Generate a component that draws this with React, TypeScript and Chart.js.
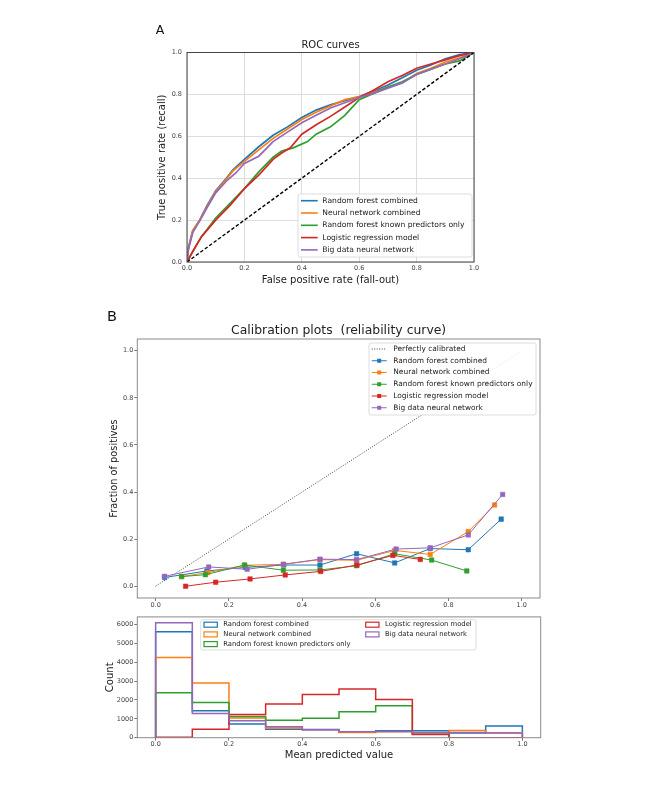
import { useEffect, useRef } from 'react';
import { Chart, registerables } from 'chart.js';

Chart.register(...registerables);

const FONT = '"DejaVu Sans", "Liberation Sans", sans-serif';

const SERIES_LABELS = [
  'Random forest combined',
  'Neural network combined',
  'Random forest known predictors only',
  'Logistic regression model',
  'Big data neural network',
];
const SERIES_COLORS = ['#1f77b4', '#ff7f0e', '#2ca02c', '#d62728', '#9467bd'];

// ---------- ROC curves ----------
const ROC_RF_FPR = [0, 0.005, 0.02, 0.044, 0.07, 0.1, 0.137, 0.16, 0.2, 0.25, 0.3, 0.35, 0.4, 0.45, 0.5, 0.55, 0.6, 0.65, 0.7, 0.75, 0.8, 0.85, 0.9, 0.95, 1];
const ROC_RF_TPR = [0, 0.07, 0.15, 0.2, 0.27, 0.34, 0.4, 0.44, 0.49, 0.55, 0.605, 0.645, 0.69, 0.725, 0.75, 0.77, 0.79, 0.815, 0.845, 0.88, 0.915, 0.94, 0.97, 0.99, 1];
const ROC_NN_FPR = [0, 0.005, 0.02, 0.044, 0.07, 0.1, 0.137, 0.16, 0.2, 0.25, 0.3, 0.35, 0.4, 0.45, 0.5, 0.55, 0.6, 0.65, 0.7, 0.75, 0.8, 0.85, 0.9, 0.95, 1];
const ROC_NN_TPR = [0, 0.065, 0.15, 0.2, 0.265, 0.335, 0.395, 0.435, 0.48, 0.535, 0.59, 0.635, 0.68, 0.715, 0.745, 0.775, 0.79, 0.81, 0.835, 0.855, 0.9, 0.925, 0.955, 0.975, 1];
const ROC_RFK_FPR = [0, 0.02, 0.05, 0.1, 0.15, 0.2, 0.25, 0.3, 0.33, 0.37, 0.42, 0.45, 0.5, 0.55, 0.6, 0.65, 0.7, 0.75, 0.8, 0.85, 0.9, 0.95, 1];
const ROC_RFK_TPR = [0, 0.05, 0.12, 0.21, 0.28, 0.35, 0.43, 0.5, 0.53, 0.545, 0.575, 0.61, 0.645, 0.7, 0.775, 0.805, 0.835, 0.86, 0.895, 0.92, 0.945, 0.96, 1];
const ROC_LR_FPR = [0, 0.02, 0.05, 0.1, 0.15, 0.2, 0.25, 0.3, 0.33, 0.36, 0.4, 0.45, 0.5, 0.55, 0.6, 0.65, 0.7, 0.75, 0.8, 0.85, 0.9, 0.95, 1];
const ROC_LR_TPR = [0, 0.05, 0.12, 0.2, 0.27, 0.35, 0.415, 0.49, 0.52, 0.545, 0.61, 0.655, 0.695, 0.74, 0.785, 0.82, 0.86, 0.89, 0.925, 0.945, 0.965, 0.985, 1];
const ROC_BD_FPR = [0, 0.005, 0.02, 0.044, 0.07, 0.1, 0.14, 0.17, 0.2, 0.25, 0.3, 0.35, 0.4, 0.45, 0.5, 0.55, 0.6, 0.65, 0.7, 0.75, 0.8, 0.85, 0.9, 0.95, 1];
const ROC_BD_TPR = [0, 0.06, 0.14, 0.195, 0.26, 0.33, 0.39, 0.425, 0.47, 0.505, 0.575, 0.62, 0.665, 0.7, 0.735, 0.76, 0.785, 0.805, 0.83, 0.855, 0.895, 0.92, 0.945, 0.97, 1];
const ROC_DIAG = [0, 1];

// ---------- Calibration ----------
const CAL_RF_X = [0.0245, 0.14, 0.245, 0.35, 0.449, 0.549, 0.653, 0.75, 0.854, 0.944];
const CAL_RF_Y = [0.037, 0.065, 0.08, 0.09, 0.09, 0.138, 0.099, 0.16, 0.155, 0.285];
const CAL_NN_X = [0.071, 0.143, 0.243, 0.349, 0.449, 0.549, 0.653, 0.75, 0.854, 0.926];
const CAL_NN_Y = [0.041, 0.058, 0.089, 0.093, 0.113, 0.11, 0.152, 0.135, 0.232, 0.345];
const CAL_RFK_X = [0.071, 0.136, 0.243, 0.349, 0.449, 0.549, 0.653, 0.754, 0.85];
const CAL_RFK_Y = [0.041, 0.049, 0.09, 0.068, 0.069, 0.087, 0.138, 0.111, 0.065];
const CAL_LR_X = [0.082, 0.164, 0.258, 0.354, 0.451, 0.55, 0.648, 0.723];
const CAL_LR_Y = [0.0, 0.017, 0.031, 0.048, 0.063, 0.09, 0.131, 0.114];
const CAL_BD_X = [0.0245, 0.145, 0.25, 0.349, 0.449, 0.549, 0.657, 0.75, 0.854, 0.948];
const CAL_BD_Y = [0.042, 0.082, 0.072, 0.093, 0.115, 0.113, 0.158, 0.163, 0.218, 0.39];
const CAL_PERFECT = [0, 1];

// ---------- Histogram ----------
const BIN_EDGES = [0, 0.1, 0.2, 0.3, 0.4, 0.5, 0.6, 0.7, 0.8, 0.9, 1.0];
const HIST_RF = [5620, 1430, 730, 450, 430, 300, 370, 370, 250, 620];
const HIST_NN = [4250, 2900, 1050, 520, 420, 280, 310, 260, 380, 260];
const HIST_RFK = [2380, 1860, 1120, 920, 1030, 1370, 1700, 180, 0, 0];
const HIST_LR = [30, 450, 1230, 1790, 2290, 2580, 2020, 170, 0, 0];
const HIST_BD = [6100, 1280, 900, 580, 420, 310, 330, 280, 280, 250];

const UNIT_TICKS = [0, 0.2, 0.4, 0.6, 0.8, 1.0];
const COUNT_TICKS = [0, 1000, 2000, 3000, 4000, 5000, 6000];

const tickFont = { family: FONT, size: 6.5 };
const fixedTicks = (values: number[]) => (scale: any) => {
  scale.ticks = values.map((v) => ({ value: v }));
};
const fixedWidth = (w: number) => (scale: any) => {
  scale.width = w;
};
const fixedHeight = (h: number) => (scale: any) => {
  scale.height = h;
};
const fmt1 = (v: any) => Number(v).toFixed(1);
const pairs = (xs: number[], ys: number[]) => xs.map((x, i) => ({ x, y: ys[i] }));
const stepPoints = (vals: number[]) => {
  const pts: { x: number; y: number }[] = [{ x: BIN_EDGES[0], y: 0 }];
  vals.forEach((v, i) => {
    pts.push({ x: BIN_EDGES[i], y: v });
    pts.push({ x: BIN_EDGES[i + 1], y: v });
  });
  pts.push({ x: BIN_EDGES[vals.length], y: 0 });
  return pts;
};

function drawLegend(ctx: CanvasRenderingContext2D, L: any) {
  ctx.save();
  ctx.beginPath();
  if ((ctx as any).roundRect) (ctx as any).roundRect(L.x, L.y, L.w, L.h, 2);
  else ctx.rect(L.x, L.y, L.w, L.h);
  ctx.fillStyle = 'rgba(255,255,255,0.85)';
  ctx.fill();
  ctx.strokeStyle = '#d4d4d4';
  ctx.lineWidth = 0.8;
  ctx.stroke();
  ctx.font = `${L.fontSize}px ${FONT}`;
  ctx.textAlign = 'left';
  ctx.textBaseline = 'middle';
  L.items.forEach((it: any, i: number) => {
    const col = Math.floor(i / L.perCol);
    const row = i % L.perCol;
    const sx = L.colX[col];
    const tx = L.textX[col];
    const y = L.row0 + row * L.rowH;
    ctx.strokeStyle = it.color;
    ctx.fillStyle = it.color;
    ctx.setLineDash([]);
    if (it.kind === 'line' || it.kind === 'marker' || it.kind === 'dotted') {
      ctx.lineWidth = it.kind === 'line' ? 1.6 : 1;
      if (it.kind === 'dotted') ctx.setLineDash([1, 1.5]);
      ctx.beginPath();
      ctx.moveTo(sx, y);
      ctx.lineTo(sx + L.sampleW, y);
      ctx.stroke();
      ctx.setLineDash([]);
      if (it.kind === 'marker') {
        const cx = sx + L.sampleW / 2;
        ctx.fillRect(cx - 2, y - 2, 4, 4);
      }
    } else if (it.kind === 'rect') {
      ctx.lineWidth = 1.2;
      ctx.strokeRect(sx, y - 2.5, L.sampleW, 5);
    }
    ctx.fillStyle = '#222';
    ctx.fillText(it.label, tx, y);
  });
  ctx.restore();
}

function decor(spec: any) {
  return {
    id: 'decor',
    afterDraw(chart: any) {
      const { ctx, chartArea: ca } = chart;
      ctx.save();
      ctx.strokeStyle = spec.frameColor;
      ctx.lineWidth = 1;
      ctx.strokeRect(ca.left, ca.top, ca.right - ca.left, ca.bottom - ca.top);
      ctx.fillStyle = '#222';
      if (spec.title) {
        ctx.font = `${spec.titleSize}px ${FONT}`;
        ctx.textAlign = 'center';
        ctx.textBaseline = 'middle';
        ctx.fillText(spec.title, (ca.left + ca.right) / 2, spec.titleY);
      }
      if (spec.letter) {
        ctx.font = `${spec.letterSize}px ${FONT}`;
        ctx.textAlign = 'left';
        ctx.textBaseline = 'alphabetic';
        ctx.fillStyle = '#111';
        ctx.fillText(spec.letter, spec.letterX, spec.letterY);
      }
      ctx.restore();
      if (spec.legend) drawLegend(ctx, spec.legend);
    },
  };
}

function axisTitle(text: string, size: number) {
  return { display: true, text, font: { family: FONT, size }, color: '#222', padding: 0 };
}

function rocConfig(): any {
  const series = [
    [ROC_RF_FPR, ROC_RF_TPR],
    [ROC_NN_FPR, ROC_NN_TPR],
    [ROC_RFK_FPR, ROC_RFK_TPR],
    [ROC_LR_FPR, ROC_LR_TPR],
    [ROC_BD_FPR, ROC_BD_TPR],
  ];
  const datasets: any[] = series.map(([xs, ys], i) => ({
    label: SERIES_LABELS[i],
    data: pairs(xs, ys),
    borderColor: SERIES_COLORS[i],
    backgroundColor: SERIES_COLORS[i],
    borderWidth: 1.7,
    showLine: true,
    pointRadius: 0,
    order: 6 - i,
  }));
  datasets.push({
    label: 'chance',
    data: pairs(ROC_DIAG, ROC_DIAG),
    borderColor: '#000',
    borderWidth: 1.4,
    borderDash: [3.5, 2],
    showLine: true,
    pointRadius: 0,
    order: 0,
  });
  const gridCommon = { color: '#d4d4d4', lineWidth: 0.8, drawTicks: false };
  return {
    type: 'scatter',
    data: { datasets },
    options: {
      animation: false,
      responsive: false,
      events: [],
      layout: { padding: { top: 32.5, left: 16.5, right: 11, bottom: 9 } },
      plugins: { legend: { display: false }, tooltip: { enabled: false }, title: { display: false } },
      scales: {
        x: {
          type: 'linear', min: 0, max: 1,
          afterBuildTicks: fixedTicks(UNIT_TICKS), afterFit: fixedHeight(24),
          grid: gridCommon, border: { display: false },
          ticks: { font: tickFont, color: '#444', padding: 2.4, callback: fmt1, autoSkip: false, maxRotation: 0 },
          title: axisTitle('False positive rate (fall-out)', 10),
        },
        y: {
          type: 'linear', min: 0, max: 1,
          afterBuildTicks: fixedTicks(UNIT_TICKS), afterFit: fixedWidth(30.5),
          grid: gridCommon, border: { display: false },
          ticks: { font: tickFont, color: '#444', padding: 5, callback: fmt1, autoSkip: false },
          title: axisTitle('True positive rate (recall)', 10),
        },
      },
    },
    plugins: [
      decor({
        frameColor: '#444',
        title: 'ROC curves', titleSize: 10, titleY: 25,
        letter: 'A', letterSize: 12.5, letterX: 15.7, letterY: 14,
        legend: {
          x: 158, y: 174, w: 174, h: 63, fontSize: 7.6,
          perCol: 5, colX: [161], textX: [182.3], sampleW: 16.7, row0: 180.7, rowH: 12.3,
          items: SERIES_LABELS.map((l, i) => ({ label: l, color: SERIES_COLORS[i], kind: 'line' })),
        },
      }),
    ],
  };
}

function calConfig(): any {
  const series = [
    [CAL_RF_X, CAL_RF_Y],
    [CAL_NN_X, CAL_NN_Y],
    [CAL_RFK_X, CAL_RFK_Y],
    [CAL_LR_X, CAL_LR_Y],
    [CAL_BD_X, CAL_BD_Y],
  ];
  const datasets: any[] = [
    {
      label: 'Perfectly calibrated',
      data: pairs(CAL_PERFECT, CAL_PERFECT),
      borderColor: '#444',
      borderWidth: 1,
      borderDash: [1, 1.5],
      showLine: true,
      pointRadius: 0,
      order: 10,
    },
  ];
  series.forEach(([xs, ys], i) => {
    datasets.push({
      label: SERIES_LABELS[i],
      data: pairs(xs, ys),
      borderColor: SERIES_COLORS[i],
      backgroundColor: SERIES_COLORS[i],
      borderWidth: 1,
      showLine: true,
      pointStyle: 'rect',
      pointRadius: 3.2,
      pointBorderWidth: 0.5,
      pointBorderColor: SERIES_COLORS[i],
      pointBackgroundColor: SERIES_COLORS[i],
      order: 6 - i,
    });
  });
  const gridCommon = { drawOnChartArea: false, drawTicks: true, tickLength: 3, tickColor: '#555', tickWidth: 0.8, color: '#555' };
  return {
    type: 'scatter',
    data: { datasets },
    options: {
      animation: false,
      responsive: false,
      events: [],
      layout: { padding: { top: 39, left: 8.5, right: 10, bottom: 0 } },
      plugins: { legend: { display: false }, tooltip: { enabled: false }, title: { display: false } },
      scales: {
        x: {
          type: 'linear', min: -0.05, max: 1.05,
          afterBuildTicks: fixedTicks(UNIT_TICKS), afterFit: fixedHeight(12),
          grid: gridCommon, border: { display: false },
          ticks: { font: tickFont, color: '#444', padding: 0, callback: fmt1, autoSkip: false, maxRotation: 0 },
        },
        y: {
          type: 'linear', min: -0.05, max: 1.05,
          afterBuildTicks: fixedTicks(UNIT_TICKS), afterFit: fixedWidth(28.8),
          grid: gridCommon, border: { display: false },
          ticks: { font: tickFont, color: '#444', padding: 1, callback: fmt1, autoSkip: false },
          title: axisTitle('Fraction of positives', 9.8),
        },
      },
    },
    plugins: [
      decor({
        frameColor: '#8a8a8a',
        title: 'Calibration plots  (reliability curve)', titleSize: 12.4, titleY: 30.5,
        letter: 'B', letterSize: 14.5, letterX: 7, letterY: 21,
        legend: {
          x: 269, y: 43, w: 167, h: 72, fontSize: 7.45,
          perCol: 6, colX: [271.7], textX: [293.3], sampleW: 15, row0: 49, rowH: 11.75,
          items: [
            { label: 'Perfectly calibrated', color: '#444', kind: 'dotted' },
            ...SERIES_LABELS.map((l, i) => ({ label: l, color: SERIES_COLORS[i], kind: 'marker' })),
          ],
        },
      }),
    ],
  };
}

function histConfig(): any {
  const series = [HIST_RF, HIST_NN, HIST_RFK, HIST_LR, HIST_BD];
  const datasets = series.map((vals, i) => ({
    label: SERIES_LABELS[i],
    data: stepPoints(vals),
    borderColor: SERIES_COLORS[i],
    backgroundColor: SERIES_COLORS[i],
    borderWidth: 1.5,
    showLine: true,
    pointRadius: 0,
    order: 6 - i,
  }));
  const gridCommon = { drawOnChartArea: false, drawTicks: true, tickLength: 3, tickColor: '#555', tickWidth: 0.8, color: '#555' };
  return {
    type: 'scatter',
    data: { datasets },
    options: {
      animation: false,
      responsive: false,
      events: [],
      layout: { padding: { top: 4, left: 4.3, right: 9.3, bottom: 0.7 } },
      plugins: { legend: { display: false }, tooltip: { enabled: false }, title: { display: false } },
      scales: {
        x: {
          type: 'linear', min: -0.05, max: 1.05,
          afterBuildTicks: fixedTicks(UNIT_TICKS), afterFit: fixedHeight(23.6),
          grid: gridCommon, border: { display: false },
          ticks: { font: tickFont, color: '#444', padding: 0, callback: fmt1, autoSkip: false, maxRotation: 0 },
          title: axisTitle('Mean predicted value', 10),
        },
        y: {
          type: 'linear', min: 0, max: 6405,
          afterBuildTicks: fixedTicks(COUNT_TICKS), afterFit: fixedWidth(33),
          grid: gridCommon, border: { display: false },
          ticks: { font: tickFont, color: '#444', padding: 1, callback: (v: any) => String(v), autoSkip: false },
          title: axisTitle('Count', 10),
        },
      },
    },
    plugins: [
      decor({
        frameColor: '#8a8a8a',
        legend: {
          x: 100.7, y: 7.7, w: 275.3, h: 30.3, fontSize: 6.8,
          perCol: 3, colX: [104, 265.7], textX: [123.3, 285], sampleW: 13.3, row0: 12.7, rowH: 9.7,
          items: SERIES_LABELS.map((l, i) => ({ label: l, color: SERIES_COLORS[i], kind: 'rect' })),
        },
      }),
    ],
  };
}

export default function App() {
  const rocRef = useRef<HTMLCanvasElement>(null);
  const calRef = useRef<HTMLCanvasElement>(null);
  const histRef = useRef<HTMLCanvasElement>(null);

  useEffect(() => {
    const charts = [
      new Chart(rocRef.current as HTMLCanvasElement, rocConfig()),
      new Chart(calRef.current as HTMLCanvasElement, calConfig()),
      new Chart(histRef.current as HTMLCanvasElement, histConfig()),
    ];
    return () => charts.forEach((c) => c.destroy());
  }, []);

  return (
    <div style={{ position: 'absolute', left: 0, top: 0, width: 666, height: 799, background: '#fff', overflow: 'hidden' }}>
      <canvas ref={rocRef} width={345} height={275} style={{ position: 'absolute', left: 140, top: 20, width: 345, height: 275 }} />
      <canvas ref={calRef} width={450} height={310} style={{ position: 'absolute', left: 100, top: 300, width: 450, height: 310 }} />
      <canvas ref={histRef} width={450} height={150} style={{ position: 'absolute', left: 100, top: 612, width: 450, height: 150 }} />
    </div>
  );
}
